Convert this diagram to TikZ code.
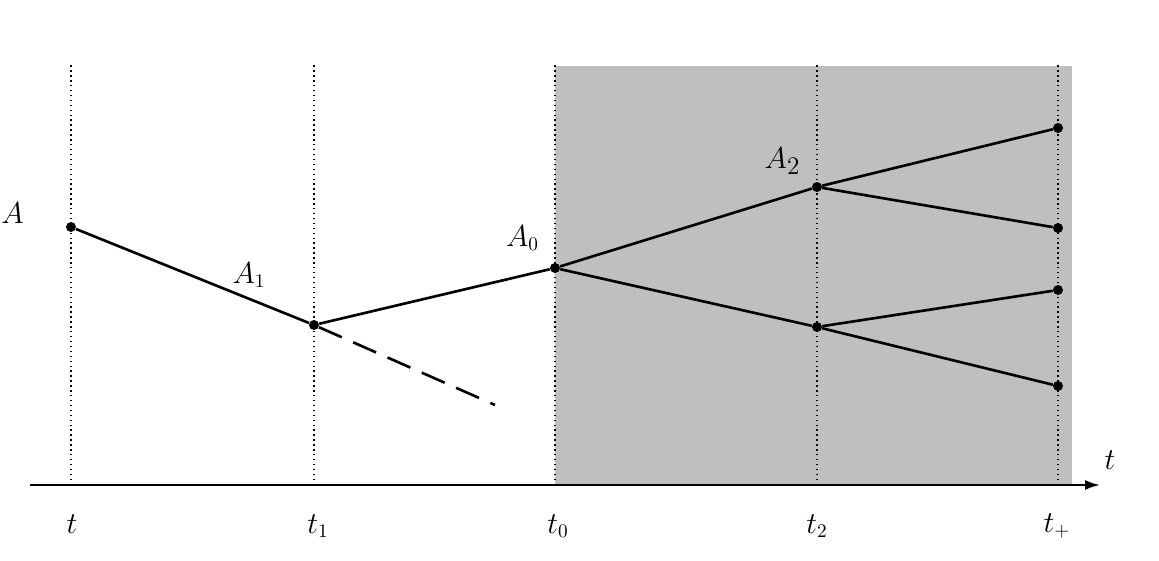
\documentclass[tikz,border=0pt]{standalone}
\usepackage{fontspec}
\setmainfont{Liberation Serif}
\usetikzlibrary{arrows.meta}

\begin{document}
\begin{tikzpicture}[
        font=\fontsize{16}{18}\selectfont,
        pt/.style={circle, fill=black, inner sep=0pt, minimum size=0.2cm},
        path/.style={line width=1.5pt},
        guide/.style={dotted, line width=0.8pt},
        lbl/.style={inner sep=1pt},
    ]
    \useasboundingbox (0,0) rectangle (23.18,11.2);

    %====================== shaded future zone ======================
    \fill[black!25] (11.1,1.5) rectangle (21.44,9.88);

    %====================== time guides ======================
    \foreach \x in {1.42, 6.28, 11.1, 16.34, 21.16} {
        \draw[guide] (\x, 1.5) -- (\x, 9.9);
    }

    %====================== axis ======================
    \coordinate (ax-start) at (0.6, 1.5);
    \coordinate (ax-end) at (22.0, 1.5);
    \draw[line width=1.2pt, -{Latex[length=0.3cm, width=0.2cm]}] (ax-start) -- (ax-end);
    \node[lbl] (ax-t) at (22.2, 2.0) {$t$};

    \node[lbl] (lb-t)  at (1.44, 0.72)  {$t$};
    \node[lbl] (lb-t1) at (6.36, 0.68)  {$t_1$};
    \node[lbl] (lb-t0) at (11.16, 0.68) {$t_0$};
    \node[lbl] (lb-t2) at (16.34, 0.68) {$t_2$};
    \node[lbl] (lb-tp) at (21.14, 0.68) {$t_+$};

    %====================== states ======================
    \node[pt] (p-start) at (1.42, 6.66) {};
    \node[pt] (p-t1)    at (6.28, 4.7)  {};
    \node[pt] (p-a0)    at (11.1, 5.84) {};
    \node[pt] (p-a2)    at (16.34, 7.46) {};
    \node[pt] (p-low)   at (16.34, 4.66) {};
    \node[pt] (p-e1)    at (21.16, 8.64) {};
    \node[pt] (p-e2)    at (21.16, 6.64) {};
    \node[pt] (p-e3)    at (21.16, 5.4)  {};
    \node[pt] (p-e4)    at (21.16, 3.48) {};
    \coordinate (p-dash) at (9.9, 3.1);

    \draw[path] (p-start) -- (p-t1) -- (p-a0);
    \draw[path, dashed, dash pattern=on 0.5cm off 0.25cm] (p-t1) -- (p-dash);
    \draw[path] (p-a0) -- (p-a2) -- (p-e1);
    \draw[path] (p-a2) -- (p-e2);
    \draw[path] (p-a0) -- (p-low) -- (p-e4);
    \draw[path] (p-low) -- (p-e3);

    %====================== labels ======================
    \node[lbl, anchor=west, inner sep=0pt] (lb-A) at (0.02, 6.94) {$A$};
    \node[lbl] (lb-A1) at (4.98, 5.7)  {$A_1$};
    \node[lbl] (lb-A0) at (10.45, 6.44) {$A_0$};
    \node[lbl, font=\fontsize{19}{21}\selectfont] (lb-A2) at (15.65, 7.98) {$A_2$};

\end{tikzpicture}
\end{document}
